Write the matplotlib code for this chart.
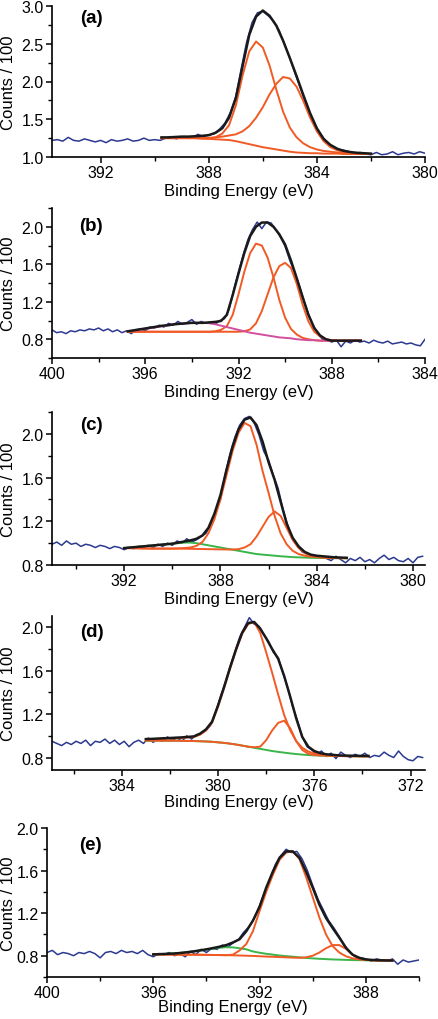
import numpy as np
import matplotlib
matplotlib.use("Agg")
import matplotlib.pyplot as plt
from matplotlib.ticker import MultipleLocator

plt.rcParams['font.family'] = ['Liberation Sans', 'DejaVu Sans']

BLUE = '#2b3990'
ORANGE = '#f15a24'
GREEN = '#39b54a'
MAGENTA = '#d24f9e'
BLACK = '#1a1a1a'

# ---- (a) ----
raw_a_ev = (393.8, 380.0)
raw_a = [1.22, 1.23, 1.21, 1.26, 1.22, 1.21, 1.24, 1.22, 1.20, 1.22,
         1.19, 1.23, 1.21, 1.22, 1.24, 1.21, 1.22, 1.25, 1.22, 1.23,
         1.22, 1.25, 1.27, 1.24, 1.27, 1.25, 1.26, 1.30, 1.27, 1.29,
         1.31, 1.37, 1.45, 1.59, 1.80, 2.17, 2.52, 2.78, 2.91, 2.93,
         2.87, 2.80, 2.68, 2.50, 2.31, 2.10, 1.90, 1.70, 1.52, 1.38,
         1.27, 1.18, 1.14, 1.10, 1.09, 1.07, 1.05, 1.06, 1.04, 1.03,
         1.06, 1.03, 1.04, 1.07, 1.03, 1.05, 1.06, 1.04, 1.07, 1.05]
fit_a_ev = (389.75, 382.0)
env_a = [1.26, 1.26, 1.265, 1.27, 1.27, 1.275, 1.28, 1.29, 1.32, 1.38, 1.52, 1.78, 2.20, 2.62, 2.86, 2.94,
         2.87, 2.74, 2.54, 2.31, 2.07, 1.82, 1.58, 1.38, 1.24, 1.16, 1.11, 1.08, 1.065, 1.055, 1.05, 1.045]
bg_a = [1.25, 1.25, 1.25, 1.25, 1.25, 1.25, 1.245, 1.24, 1.235, 1.23, 1.225, 1.21, 1.19, 1.17, 1.15, 1.13,
        1.115, 1.10, 1.085, 1.07, 1.06, 1.055, 1.05, 1.05, 1.045, 1.045, 1.045, 1.04, 1.04, 1.04, 1.04, 1.04]
pk1_a = [1.25, 1.25, 1.25, 1.25, 1.25, 1.25, 1.245, 1.245, 1.26, 1.31, 1.42, 1.68, 2.08, 2.40, 2.53, 2.45,
         2.21, 1.89, 1.60, 1.39, 1.26, 1.18, 1.13, 1.10, 1.08, 1.07, 1.06, 1.05, 1.045, 1.04, 1.04, 1.04]
pk2_a = [1.25, 1.25, 1.25, 1.25, 1.25, 1.25, 1.25, 1.255, 1.26, 1.27, 1.285, 1.30, 1.34, 1.41, 1.52, 1.66,
         1.83, 1.97, 2.06, 2.04, 1.93, 1.74, 1.52, 1.34, 1.21, 1.13, 1.09, 1.065, 1.05, 1.045, 1.04, 1.04]

# ---- (b) ----
raw_b_ev = (400.0, 384.0)
raw_b = [0.90, 0.87, 0.88, 0.86, 0.89, 0.88, 0.90, 0.89, 0.91, 0.90,
         0.92, 0.89, 0.91, 0.88, 0.90, 0.87, 0.89, 0.86, 0.90, 0.91, 0.89,
         0.93, 0.92, 0.95, 0.93, 0.97, 0.95, 0.99, 0.96, 0.98, 1.01,
         0.96, 0.99, 0.97, 0.98, 0.96, 1.00, 1.02, 1.12, 1.33, 1.52,
         1.70, 1.86, 1.97, 2.05, 1.98, 2.05, 2.04, 1.97, 1.89, 1.79,
         1.64, 1.52, 1.38, 1.22, 1.07, 0.95, 0.86, 0.80, 0.79, 0.77,
         0.79, 0.72, 0.78, 0.76, 0.79, 0.77, 0.78, 0.76, 0.79, 0.77,
         0.76, 0.78, 0.75, 0.76, 0.77, 0.75, 0.76, 0.74, 0.73, 0.80]
fit_b_ev = (396.75, 386.75)
env_b = [0.885, 0.895, 0.905, 0.915, 0.925, 0.935, 0.945, 0.95, 0.96, 0.965, 0.97, 0.975, 0.975, 0.975,
         0.98, 0.985, 0.995, 1.06, 1.27, 1.50, 1.72, 1.90, 2.00, 2.045, 2.045, 2.00, 1.92, 1.81,
         1.64, 1.45, 1.25, 1.06, 0.92, 0.84, 0.80, 0.785, 0.785, 0.785, 0.785, 0.785, 0.785]
broad_b = [0.885, 0.89, 0.90, 0.91, 0.92, 0.93, 0.94, 0.95, 0.96, 0.965, 0.97, 0.975, 0.975, 0.975,
           0.97, 0.96, 0.945, 0.93, 0.915, 0.90, 0.885, 0.87, 0.86, 0.85, 0.84, 0.83, 0.82, 0.815,
           0.81, 0.80, 0.795, 0.79, 0.79, 0.785, 0.785, 0.785, 0.785, 0.785, 0.785, 0.785, 0.785]
pk1_b = [0.88, 0.88, 0.88, 0.88, 0.88, 0.88, 0.88, 0.88, 0.88, 0.88, 0.88, 0.88, 0.88, 0.88,
         0.88, 0.885, 0.90, 0.94, 1.06, 1.28, 1.52, 1.72, 1.82, 1.80, 1.67, 1.46, 1.22, 1.03,
         0.91, 0.85, 0.815, 0.80, 0.79, 0.785, 0.785, 0.785, 0.785, 0.785, 0.785, 0.785, 0.785]
pk2_b = [0.88, 0.88, 0.88, 0.88, 0.88, 0.88, 0.88, 0.88, 0.88, 0.88, 0.88, 0.88, 0.88, 0.88,
         0.88, 0.88, 0.88, 0.88, 0.88, 0.88, 0.885, 0.905, 0.97, 1.10, 1.28, 1.46, 1.58, 1.615,
         1.56, 1.39, 1.17, 0.99, 0.88, 0.83, 0.80, 0.79, 0.785, 0.785, 0.785, 0.785, 0.785]

# ---- (c) ----
raw_c_ev = (395.0, 379.6)
raw_c = [0.99, 1.01, 0.98, 1.02, 0.99, 1.00, 0.97, 0.99, 0.98, 0.96,
         0.98, 0.97, 0.95, 0.97, 0.96, 0.94, 0.96, 0.95, 0.97, 0.96,
         0.98, 0.96, 0.99, 0.97, 1.00, 0.98, 1.02, 1.00, 1.04, 1.01,
         1.03, 1.06, 1.09, 1.17, 1.30, 1.40, 1.63, 1.82, 1.97, 2.08,
         2.14, 2.16, 2.10, 1.99, 1.84, 1.76, 1.62, 1.50, 1.31, 1.16,
         1.04, 0.97, 0.92, 0.90, 0.89, 0.87, 0.88, 0.86, 0.84, 0.88,
         0.85, 0.82, 0.86, 0.84, 0.87, 0.83, 0.85, 0.82, 0.86, 0.89,
         0.85, 0.87, 0.84, 0.83, 0.86, 0.82, 0.87, 0.88]
fit_c_ev = (392.0, 382.75)
env_c = [0.955, 0.96, 0.965, 0.97, 0.975, 0.98, 0.985, 0.99, 0.995, 1.005, 1.015, 1.025, 1.04,
         1.07, 1.14, 1.27, 1.44, 1.67, 1.88, 2.04, 2.13, 2.15, 2.08, 1.93, 1.74, 1.58,
         1.38, 1.18, 1.05, 0.97, 0.92, 0.895, 0.885, 0.88, 0.875, 0.87, 0.868, 0.866]
green_c = [0.955, 0.96, 0.965, 0.97, 0.975, 0.98, 0.985, 0.99, 0.995, 1.0, 1.005, 1.005, 1.0,
           0.99, 0.98, 0.97, 0.96, 0.95, 0.94, 0.93, 0.92, 0.91, 0.90, 0.895, 0.89, 0.885,
           0.88, 0.876, 0.872, 0.87, 0.868, 0.866, 0.865, 0.864, 0.863, 0.862, 0.862, 0.862]
big_c = [0.955, 0.954, 0.953, 0.952, 0.951, 0.95, 0.95, 0.95, 0.95, 0.952, 0.955, 0.96, 0.975,
         1.01, 1.09, 1.22, 1.40, 1.62, 1.84, 2.01, 2.10, 2.07, 1.90, 1.66, 1.46, 1.25,
         1.09, 0.99, 0.93, 0.90, 0.885, 0.877, 0.872, 0.868, 0.866, 0.864, 0.863, 0.862]
small_c = [0.955, 0.954, 0.953, 0.952, 0.951, 0.95, 0.95, 0.95, 0.95, 0.95, 0.949, 0.948, 0.947,
           0.946, 0.945, 0.944, 0.943, 0.942, 0.942, 0.945, 0.96, 0.99, 1.06, 1.15, 1.24, 1.29,
           1.25, 1.14, 1.03, 0.955, 0.91, 0.89, 0.877, 0.87, 0.866, 0.864, 0.863, 0.862]

# ---- (d) ----
raw_d_ev = (386.9, 371.5)
raw_d = [0.95, 0.93, 0.91, 0.94, 0.92, 0.95, 0.93, 0.96, 0.91, 0.95,
         0.94, 0.97, 0.93, 0.96, 0.92, 0.95, 0.90, 0.94, 0.96, 0.93,
         0.98, 0.94, 0.97, 0.95, 0.99, 0.96, 0.98, 0.95, 1.00, 0.97,
         1.01, 1.02, 1.05, 1.10, 1.22, 1.36, 1.49, 1.64, 1.77, 1.91,
         2.00, 2.09, 2.03, 2.01, 1.93, 1.87, 1.77, 1.72, 1.58, 1.44,
         1.27, 1.14, 0.99, 0.90, 0.87, 0.83, 0.86, 0.81, 0.84, 0.79,
         0.85, 0.82, 0.80, 0.83, 0.81, 0.84, 0.80, 0.82, 0.81, 0.85,
         0.82, 0.80, 0.86, 0.81, 0.78, 0.77, 0.81, 0.80]
fit_d_ev = (383.0, 373.75)
env_d = [0.97, 0.972, 0.975, 0.978, 0.98, 0.983, 0.986, 0.99, 0.995, 1.02, 1.06, 1.13, 1.28,
         1.45, 1.63, 1.80, 1.95, 2.04, 2.05, 1.99, 1.90, 1.80, 1.71, 1.55, 1.36, 1.16,
         0.99, 0.90, 0.86, 0.84, 0.83, 0.825, 0.82, 0.818, 0.817, 0.816, 0.815, 0.815]
bg_d = [0.955, 0.955, 0.955, 0.955, 0.955, 0.955, 0.954, 0.953, 0.952, 0.95, 0.948, 0.945, 0.94,
        0.935, 0.928, 0.92, 0.91, 0.90, 0.89, 0.88, 0.87, 0.86, 0.852, 0.845, 0.838, 0.832,
        0.827, 0.823, 0.82, 0.818, 0.816, 0.815, 0.814, 0.813, 0.812, 0.812, 0.811, 0.811]
big_d = [0.965, 0.967, 0.97, 0.972, 0.975, 0.978, 0.98, 0.985, 0.99, 1.01, 1.05, 1.12, 1.27,
         1.44, 1.62, 1.79, 1.94, 2.03, 2.05, 1.95, 1.77, 1.58, 1.38, 1.19, 1.05, 0.95,
         0.89, 0.855, 0.838, 0.828, 0.822, 0.818, 0.816, 0.814, 0.813, 0.812, 0.812, 0.811]
small_d = [0.955, 0.955, 0.955, 0.955, 0.955, 0.955, 0.954, 0.953, 0.952, 0.95, 0.948, 0.945, 0.94,
           0.935, 0.928, 0.92, 0.91, 0.90, 0.895, 0.90, 0.96, 1.05, 1.12, 1.14, 1.07, 0.95,
           0.87, 0.835, 0.823, 0.819, 0.817, 0.815, 0.814, 0.813, 0.812, 0.812, 0.811, 0.811]

# ---- (e) ----
raw_e_ev = (400.0, 386.0)
raw_e = [0.83, 0.85, 0.81, 0.83, 0.82, 0.80, 0.83, 0.82, 0.84, 0.82,
         0.78, 0.83, 0.84, 0.82, 0.85, 0.83, 0.84, 0.82, 0.85, 0.81,
         0.79, 0.82, 0.81, 0.83, 0.80, 0.82, 0.79, 0.84, 0.81, 0.86,
         0.83, 0.87, 0.86, 0.90, 0.88, 0.92, 0.95, 1.02, 1.07, 1.15,
         1.27, 1.40, 1.53, 1.66, 1.74, 1.80, 1.77, 1.78, 1.71, 1.60,
         1.46, 1.33, 1.23, 1.13, 1.06, 0.98, 0.90, 0.83, 0.79, 0.78,
         0.77, 0.75, 0.77, 0.76, 0.75, 0.77, 0.72, 0.76, 0.74, 0.75, 0.76]
fit_e_ev = (396.0, 387.0)
env_e = [0.812, 0.815, 0.817, 0.82, 0.825, 0.832, 0.84, 0.85, 0.86, 0.872, 0.885, 0.90, 0.925,
         0.955, 1.03, 1.13, 1.26, 1.44, 1.59, 1.72, 1.78, 1.78, 1.72, 1.59, 1.44, 1.28,
         1.155, 1.06, 0.97, 0.874, 0.81, 0.78, 0.765, 0.76, 0.757, 0.756, 0.755]
green_e = [0.812, 0.815, 0.818, 0.822, 0.827, 0.833, 0.84, 0.848, 0.857, 0.866, 0.875, 0.88, 0.878,
           0.87, 0.86, 0.84, 0.828, 0.818, 0.81, 0.802, 0.796, 0.791, 0.785, 0.779, 0.775, 0.771,
           0.768, 0.765, 0.763, 0.761, 0.759, 0.758, 0.757, 0.756, 0.755, 0.755, 0.755]
big_e = [0.812, 0.812, 0.811, 0.811, 0.81, 0.81, 0.81, 0.809, 0.808, 0.807, 0.806, 0.805, 0.81,
         0.85, 0.91, 1.03, 1.22, 1.40, 1.56, 1.70, 1.77, 1.78, 1.71, 1.54, 1.35, 1.16,
         1.00, 0.89, 0.83, 0.795, 0.775, 0.765, 0.76, 0.757, 0.755, 0.755, 0.755]
small_e = [0.812, 0.812, 0.811, 0.811, 0.81, 0.81, 0.81, 0.809, 0.808, 0.807, 0.806, 0.805, 0.804,
           0.802, 0.80, 0.798, 0.795, 0.792, 0.79, 0.787, 0.785, 0.782, 0.78, 0.785, 0.80, 0.83,
           0.87, 0.90, 0.90, 0.865, 0.81, 0.775, 0.762, 0.757, 0.755, 0.755, 0.755]

panel_labels = ['(a)', '(b)', '(c)', '(d)', '(e)']

# layout: axes boxes in pixels (left, top, right, bottom)
W, H = 439, 1020
boxes = [(52, 7, 425, 158), (52, 209, 425, 359), (52, 413, 425, 566),
         (52, 617, 425, 771), (47, 829, 419, 978)]
xlims = [(393.8, 380.0), (400, 384), (395.0, 379.5), (386.9, 371.4), (400, 386)]
ylims = [(1.0, 3.0), (0.6, 2.2), (0.8, 2.2), (0.685, 2.105), (0.6, 2.0)]
ymajor = [0.5, 0.4, 0.4, 0.4, 0.4]
label_pos = [(0.075, 0.925), (0.072, 0.885), (0.075, 0.92), (0.075, 0.90), (0.086, 0.89)]
xlabel_gap = [26, 26, 26, 24, 22]

panels = [
    dict(raw=raw_a, raw_ev=raw_a_ev, fit_ev=fit_a_ev, env=env_a,
         under=[], comps=[bg_a, pk1_a, pk2_a], over=[]),
    dict(raw=raw_b, raw_ev=raw_b_ev, fit_ev=fit_b_ev, env=env_b,
         under=[], comps=[pk1_b, pk2_b], over=[(broad_b, MAGENTA)]),
    dict(raw=raw_c, raw_ev=raw_c_ev, fit_ev=fit_c_ev, env=env_c,
         under=[(green_c, GREEN)], comps=[big_c, small_c], over=[]),
    dict(raw=raw_d, raw_ev=raw_d_ev, fit_ev=fit_d_ev, env=env_d,
         under=[(bg_d, GREEN)], comps=[big_d, small_d], over=[]),
    dict(raw=raw_e, raw_ev=raw_e_ev, fit_ev=fit_e_ev, env=env_e,
         under=[(green_e, GREEN)], comps=[big_e, small_e], over=[]),
]

fig = plt.figure(figsize=(W / 100, H / 100), dpi=100)

for i, p in enumerate(panels):
    l, t, r, b = boxes[i]
    ax = fig.add_axes([l / W, 1 - b / H, (r - l) / W, (b - t) / H])

    ev_raw = np.linspace(p['raw_ev'][0], p['raw_ev'][1], len(p['raw']))
    ev_fit = np.linspace(p['fit_ev'][0], p['fit_ev'][1], len(p['env']))

    ax.plot(ev_raw, p['raw'], color=BLUE, lw=1.1, zorder=1)
    for y, c in p['under']:
        ax.plot(ev_fit, y, color=c, lw=1.4, zorder=2)
    for y in p['comps']:
        ax.plot(ev_fit, y, color=ORANGE, lw=1.4, zorder=3)
    for y, c in p['over']:
        ax.plot(ev_fit, y, color=c, lw=1.4, zorder=4)
    ax.plot(ev_fit, p['env'], color=BLACK, lw=1.8, zorder=5)

    ax.set_xlim(*xlims[i])
    ax.set_ylim(*ylims[i])
    ax.xaxis.set_major_locator(MultipleLocator(4))
    ax.xaxis.set_minor_locator(MultipleLocator(2))
    ax.yaxis.set_major_locator(MultipleLocator(ymajor[i]))
    ax.yaxis.set_minor_locator(MultipleLocator(ymajor[i] / 2))
    ax.yaxis.set_major_formatter(plt.FormatStrFormatter('%.1f'))

    for s in ['top', 'right']:
        ax.spines[s].set_visible(False)
    for s in ['left', 'bottom']:
        ax.spines[s].set_linewidth(1.2)
    ax.tick_params(which='major', direction='out', length=4, width=1.1, labelsize=11.5, pad=2)
    ax.tick_params(which='minor', direction='out', length=3, width=1.0)

    ax.set_xlabel('Binding Energy (eV)', fontsize=12)
    ax.xaxis.set_label_coords(0.5, -xlabel_gap[i] / (b - t))
    ax.xaxis.label.set_verticalalignment('top')
    ax.set_ylabel('Counts / 100', fontsize=12)
    ax.yaxis.set_label_coords((16 - l) / (r - l), 0.5)

    ax.text(label_pos[i][0], label_pos[i][1], panel_labels[i], transform=ax.transAxes,
            fontsize=13.5, fontweight='bold', ha='left', va='center')

fig.savefig('out.png', dpi=100)
